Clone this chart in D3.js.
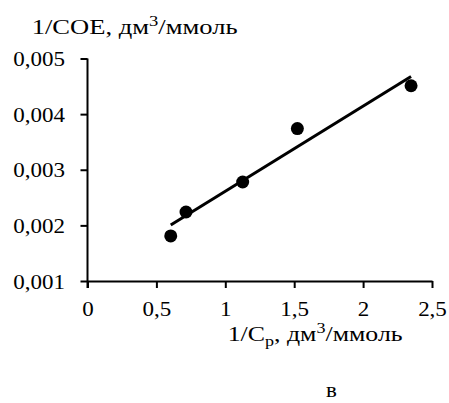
<!DOCTYPE html>
<html>
<head>
<meta charset="utf-8">
<script src="https://cdn.jsdelivr.net/npm/d3@7"></script>
<style>
  html, body { margin: 0; padding: 0; background: #fff; }
  svg { display: block; }
</style>
</head>
<body>
<div id="chart"></div>
<script>
// Reciprocal data: 1/Cp (dm3/mmol) vs 1/COE (dm3/mmol)
const invCp = [0.604, 0.715, 1.126, 1.523, 2.348];
const invCOE = [0.00181, 0.00224, 0.00278, 0.00374, 0.00451];
const xTicks = [0, 0.5, 1, 1.5, 2, 2.5];
const yTicks = [0.001, 0.002, 0.003, 0.004, 0.005];

const FONT = "Liberation Serif";
const SX = 1.15; // horizontal widening of the lettering
const width = 449, height = 403;
const margin = { left: 87.5, right: 17, top: 58.5, bottom: 122 };

const svg = d3.select("#chart").append("svg")
  .attr("width", width).attr("height", height)
  .attr("font-family", FONT);

const x = d3.scaleLinear().domain([0, 2.5]).range([margin.left, width - margin.right]);
const y = d3.scaleLinear().domain([0.001, 0.005]).range([height - margin.bottom, margin.top]);

const fmt = d => String(d).replace(".", ",");

// Axes
const xAxis = svg.append("g")
  .attr("transform", `translate(0,${y(0.001)})`)
  .call(d3.axisBottom(x).tickValues(xTicks).tickFormat(fmt).tickSize(7).tickPadding(13.5).tickSizeOuter(0));
const yAxis = svg.append("g")
  .attr("transform", `translate(${x(0)},0)`)
  .call(d3.axisLeft(y).tickValues(yTicks).tickFormat(fmt).tickSize(7).tickPadding(15).tickSizeOuter(0));

[xAxis, yAxis].forEach(g => {
  g.attr("font-family", FONT).attr("font-size", 20);
  g.select(".domain").attr("stroke", "#000").attr("stroke-width", 2);
  g.selectAll(".tick line").attr("stroke", "#000").attr("stroke-width", 2);
  g.selectAll(".tick text")
    .attr("font-family", FONT).style("font-family", FONT).style("font-size", "20px")
    .attr("fill", "#000").attr("transform", `scale(${SX},1)`);
});
yAxis.selectAll(".tick text").attr("x", -22.5 / SX).attr("dy", "0.36em");
// y-axis line continues slightly below the x-axis
yAxis.select(".domain").attr("d", `M0,${y(0.005)}V${y(0.001) + 7}`);

// Linear least-squares trend line over the data range
const n = invCp.length;
const mx = d3.mean(invCp), my = d3.mean(invCOE);
let sxy = 0, sxx = 0;
for (let i = 0; i < n; i++) {
  sxy += (invCp[i] - mx) * (invCOE[i] - my);
  sxx += (invCp[i] - mx) ** 2;
}
const slope = sxy / sxx, intercept = my - slope * mx;
const x0 = d3.min(invCp), x1 = d3.max(invCp);

svg.append("line")
  .attr("x1", x(x0)).attr("y1", y(intercept + slope * x0))
  .attr("x2", x(x1)).attr("y2", y(intercept + slope * x1))
  .attr("stroke", "#000").attr("stroke-width", 3);

// Data points
svg.selectAll("circle.pt")
  .data(invCp.map((v, i) => [v, invCOE[i]]))
  .join("circle")
  .attr("class", "pt")
  .attr("cx", d => x(d[0])).attr("cy", d => y(d[1]))
  .attr("r", 6.5).attr("fill", "#000");

// Text placed with its left edge at left and baseline at base, widened to span `w` px
function label(left, base, w, build) {
  const g = svg.append("g");
  const t = g.append("text")
    .attr("font-family", FONT).style("font-family", FONT).style("font-size", "20px")
    .attr("fill", "#000");
  build(t);
  const bb = t.node().getBBox();
  const s = w ? w / bb.width : SX;
  g.attr("transform", `translate(${left - bb.x * s},${base}) scale(${s},1)`);
  return g;
}

label(31.7, 33.5, 206, t => {
  t.append("tspan").text("1/COE, дм");
  t.append("tspan").style("font-size", "14px").attr("dy", -8).text("3");
  t.append("tspan").attr("dy", 8).text("/ммоль");
});

label(227.7, 341, 175, t => {
  t.append("tspan").text("1/C");
  t.append("tspan").style("font-size", "14px").attr("dy", 5).text("p");
  t.append("tspan").attr("dy", -5).text(", дм");
  t.append("tspan").style("font-size", "14px").attr("dy", -8).text("3");
  t.append("tspan").attr("dy", 8).text("/ммоль");
});

// Panel label
label(326, 397, null, t => t.text("в"));
</script>
</body>
</html>
